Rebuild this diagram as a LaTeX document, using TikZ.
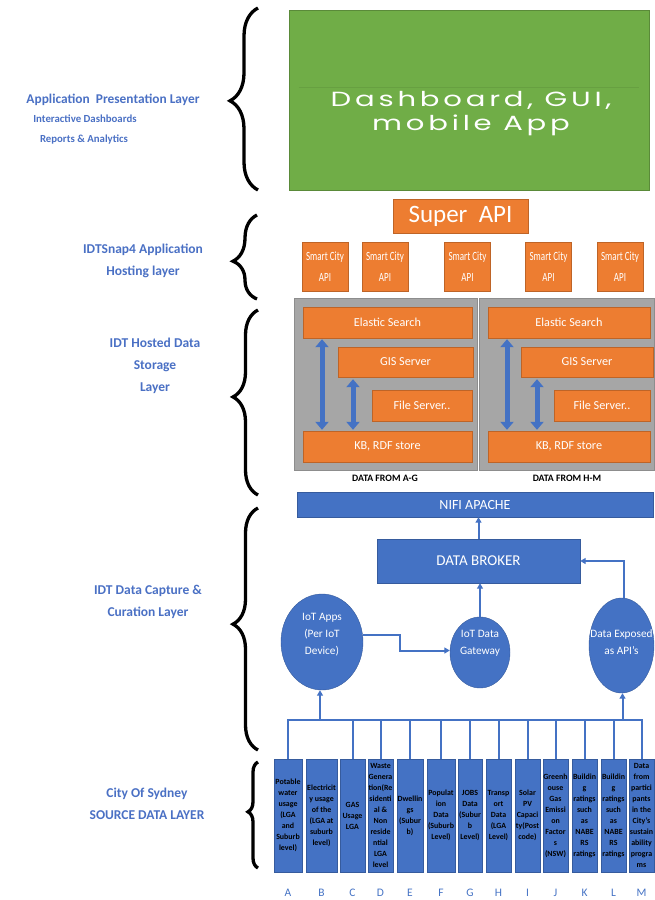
\documentclass[tikz,border=0pt]{standalone}
\usepackage{fontspec}
\usepackage{graphicx}
\setmainfont{Carlito}
\newfontfamily\geofont[LetterSpace=13]{Poppins}
\usetikzlibrary{shapes.geometric,arrows.meta,decorations.pathreplacing}

\definecolor{officeblue}{HTML}{4472C4}
\definecolor{officeorange}{HTML}{ED7D31}
\definecolor{officegreen}{HTML}{70AD47}
\definecolor{panelgray}{HTML}{A6A6A6}
\definecolor{labelblue}{HTML}{4A70C4}

\tikzset{
  layerlabel/.style={text=labelblue, align=center, font=\fontsize{13.5}{22}\selectfont\bfseries, inner sep=0},
  sublabel/.style={text=labelblue, font=\fontsize{10.8}{12}\selectfont\bfseries, inner sep=0},
  layerbrace/.style={draw=black, line width=3.3pt, decorate},
  orangebox/.style={rectangle, fill=officeorange, draw=officeorange!80!black, line width=0.4pt, inner sep=0, text=white},
  bluebox/.style={rectangle, fill=officeblue, draw=officeblue!80!black, line width=0.4pt, inner sep=0, text=white},
  storebox/.style={orangebox, font=\fontsize{12.2}{14}\selectfont},
  apibox/.style={orangebox, minimum width=46pt, minimum height=49pt, align=center, font=\fontsize{12.5}{21}\selectfont},
  panel/.style={rectangle, fill=panelgray, draw=panelgray!85!black, line width=0.4pt, inner sep=0},
  blobnode/.style={ellipse, fill=officeblue, draw=officeblue!80!black, line width=0.4pt, inner sep=0},
  blobtext/.style={text=white, align=center, font=\fontsize{11.3}{17}\selectfont, inner sep=0},
  srcbox/.style={bluebox, minimum height=113pt, text=black, align=center, font=\fontsize{7.9}{11}\selectfont\bfseries},
  letterlbl/.style={text=officeblue, font=\fontsize{11.5}{12}\selectfont, inner sep=0},
  conn/.style={draw=officeblue, line width=2pt},
  connarrow/.style={conn, -{Triangle[length=5.5pt,width=6pt]}},
  syncarrow/.style={draw=officeblue, line width=5pt, {Triangle[length=8pt,width=13pt]}-{Triangle[length=8pt,width=13pt]}},
  panelcap/.style={font=\fontsize{9.8}{11}\selectfont\bfseries, inner sep=0}
}

\begin{document}
\begin{tikzpicture}[x=1pt,y=-1pt]
\useasboundingbox (0,0) rectangle (655,900);

% ---------- layer captions ----------
\node[layerlabel, font=\fontsize{13.4}{14}\selectfont\bfseries] (capapp) at (113,100) {Application\ \ Presentation Layer};
\node[sublabel] (capdash) at (85,119) {Interactive Dashboards};
\node[sublabel] (caprep) at (84,140) {Reports \& Analytics};
\node[layerlabel] (caphost) at (143,261) {IDTSnap4 Application\\Hosting layer};
\node[layerlabel] (capstore) at (155,366) {IDT Hosted Data\\Storage\\Layer};
\node[layerlabel] (capcapture) at (148,602) {IDT Data Capture \&\\Curation Layer};
\node[layerlabel] (capsource) at (147,804) {City Of Sydney\\SOURCE DATA LAYER};

% ---------- braces ----------
\draw[layerbrace, decoration={brace, amplitude=28pt, aspect=0.49}] (258,190) -- (258,8);
\draw[layerbrace, decoration={brace, amplitude=24pt, aspect=0.45}] (257,299) -- (257,215);
\draw[layerbrace, decoration={brace, amplitude=25pt, aspect=0.53}] (258,495) -- (258,310);
\draw[layerbrace, decoration={brace, amplitude=25pt, aspect=0.52}] (258,750) -- (258,508);
\draw[layerbrace, decoration={brace, amplitude=10pt, aspect=0.53}] (258,868) -- (258,762);

% ---------- presentation ----------
\node[rectangle, fill=officegreen, draw=officegreen!80!black, line width=0.4pt,
      minimum width=360pt, minimum height=180pt, inner sep=0] (dash) at (469,100) {};
\draw[officegreen!75!black, line width=0.5pt, opacity=0.3] ([xshift=10pt]dash.west |- 0,87) -- ([xshift=-10pt]dash.east |- 0,87);
\node[text=white, align=center, font=\geofont\fontsize{20.5}{24}\selectfont, inner sep=0] (dashtxt) at (471,114)
  {\scalebox{1.42}[1]{Dashboard, GUI,}\\\scalebox{1.42}[1]{mobile App}};

% ---------- hosting ----------
\node[orangebox, minimum width=135pt, minimum height=34pt, font=\fontsize{25}{28}\selectfont] (super) at (460.5,216) {Super\ \ API};
\foreach \k/\cx in {1/325, 2/385, 3/467.5, 4/548.5, 5/620}
  \node[apibox] (api\k) at (\cx,267) {\scalebox{0.72}[1]{Smart City}\\\scalebox{0.72}[1]{API}};

% ---------- storage ----------
\node[panel, minimum width=183pt, minimum height=172pt] (panelA) at (385.5,384) {};
\node[panel, minimum width=175pt, minimum height=172pt] (panelB) at (566.5,384) {};

\node[storebox, minimum width=169pt, minimum height=31pt] (esA) at (387.5,322.5) {Elastic Search};
\node[storebox, minimum width=135pt, minimum height=30pt] (gisA) at (405.5,362) {GIS Server};
\node[storebox, minimum width=100pt, minimum height=31pt] (fsA) at (422,405.5) {File Server..};
\node[storebox, minimum width=169pt, minimum height=31pt] (kbA) at (387.5,446.5) {KB, RDF store};

\node[storebox, minimum width=162pt, minimum height=31pt] (esB) at (569,322.5) {Elastic Search};
\node[storebox, minimum width=132pt, minimum height=30pt] (gisB) at (587,362) {GIS Server};
\node[storebox, minimum width=96pt, minimum height=31pt] (fsB) at (602,405.5) {File Server..};
\node[storebox, minimum width=162pt, minimum height=31pt] (kbB) at (569,446.5) {KB, RDF store};

\coordinate (xa1) at (322,0);
\coordinate (xa2) at (353,0);
\coordinate (xb1) at (507,0);
\coordinate (xb2) at (537,0);
\draw[syncarrow] ([yshift=-1pt]esA.south -| xa1) -- ([yshift=1pt]kbA.north -| xa1);
\draw[syncarrow] ([yshift=-2pt]gisA.south -| xa2) -- ([yshift=1pt]kbA.north -| xa2);
\draw[syncarrow] ([yshift=-1pt]esB.south -| xb1) -- ([yshift=1pt]kbB.north -| xb1);
\draw[syncarrow] ([yshift=-2pt]gisB.south -| xb2) -- ([yshift=1pt]kbB.north -| xb2);

\node[panelcap] (capA) at (385,478) {DATA FROM A-G};
\node[panelcap] (capB) at (567,478) {DATA FROM H-M};

% ---------- capture & curation ----------
\node[bluebox, minimum width=356pt, minimum height=25pt, font=\fontsize{14}{16}\selectfont] (nifi) at (475,504.5) {NIFI APACHE};
\node[bluebox, minimum width=203pt, minimum height=44pt, font=\fontsize{15}{17}\selectfont] (broker) at (478.5,561) {DATA BROKER};

\node[blobnode, minimum width=82pt, minimum height=96pt] (iot) at (322,642) {};
\node[blobtext] (iottxt) at (322,635) {IoT Apps\\(Per IoT\\Device)};
\node[blobnode, minimum width=60pt, minimum height=71pt] (gw) at (480,652.5) {};
\node[blobtext] (gwtxt) at (480,643) {IoT Data\\Gateway};
\node[blobnode, minimum width=65pt, minimum height=95pt] (dx) at (621.5,645.5) {};
\node[blobtext] (dxtxt) at (621.5,642) {Data Exposed\\as API's};

\draw[connarrow] (broker.north) -- (broker.north |- nifi.south);
\draw[connarrow] (gw.north) -- (gw.north |- broker.south);
\draw[connarrow] ([xshift=2pt]dx.north) |- (broker.east);
\draw[connarrow] ([yshift=7pt]iot.east) -- ++(37,0) |- ([yshift=2pt]gw.west);

% ---------- source data ----------
\foreach \n/\l/\r/\t in {
  A/274/302/{Potable\\water\\usage\\(LGA\\and\\Suburb\\level)},
  B/306/337/{Electricit\\y usage\\of the\\(LGA at\\suburb\\level)},
  C/340/365/{GAS\\Usage\\LGA},
  D/368/393/{Waste\\Genera\\tion(Re\\sidenti\\al \&\\Non\\reside\\ntial\\LGA\\level},
  E/397/423/{Dwellin\\gs\\(Subur\\b)},
  F/427/455/{Populat\\ion\\Data\\(Suburb\\Level)},
  G/458/482/{JOBS\\Data\\(Subur\\b\\Level)},
  H/486/511/{Transp\\ort\\Data\\(LGA\\Level)},
  I/515/540/{Solar\\PV\\Capaci\\ty(Post\\code)},
  J/543/568/{Greenh\\ouse\\Gas\\Emissi\\on\\Factor\\s\\(NSW)},
  K/572/597/{Buildin\\g\\ratings\\such\\as\\NABE\\RS\\ratings},
  L/601/626/{Buildin\\g\\ratings\\such\\as\\NABE\\RS\\ratings},
  M/629/654/{Data\\from\\partici\\pants\\in the\\City's\\sustain\\ability\\progra\\ms}}
{
  \pgfmathsetmacro\bw{\r-\l}
  \pgfmathsetmacro\bx{(\l+\r)/2}
  \node[srcbox, minimum width=\bw pt] (\n) at (\bx,815.5) {\t};
  \node[letterlbl] (let\n) at (\bx,893) {\n};
}

\coordinate (bus) at (0,720);
\draw[conn, line cap=rect] (A.north |- bus) -- (M.north |- bus);
\foreach \n in {A,C,D,E,F,G,H,I,J,K,L,M}
  \draw[conn] (\n.north) -- (\n.north |- bus);
\draw[connarrow] ([xshift=-2pt]iot.south |- bus) -- ([xshift=-2pt]iot.south);
\draw[connarrow] ([xshift=1pt]dx.south |- bus) -- ([xshift=1pt]dx.south);

\end{tikzpicture}
\end{document}
